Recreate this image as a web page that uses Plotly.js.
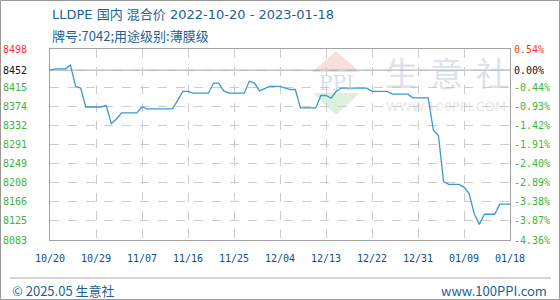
<!DOCTYPE html>
<html>
<head>
<meta charset="utf-8">
<script src="https://cdn.plot.ly/plotly-3.0.1.min.js"></script>
<style>html,body{margin:0;padding:0;background:#fff;}#chart{width:560px;height:300px;}</style>
</head>
<body>
<div id="chart"></div>
<script>
// ---- data ----
const dates = ["2022-10-20","2022-10-21","2022-10-23","2022-10-24","2022-10-25","2022-10-26","2022-10-27","2022-10-30","2022-10-31",
  "2022-11-01","2022-11-02","2022-11-03","2022-11-06","2022-11-07","2022-11-08","2022-11-13","2022-11-15","2022-11-16","2022-11-17",
  "2022-11-20","2022-11-21","2022-11-22","2022-11-23","2022-11-24","2022-11-27","2022-11-28","2022-11-29","2022-11-30",
  "2022-12-01","2022-12-02","2022-12-04","2022-12-05","2022-12-06","2022-12-07","2022-12-08","2022-12-11","2022-12-12","2022-12-13",
  "2022-12-14","2022-12-15","2022-12-16","2022-12-21","2022-12-22","2022-12-25","2022-12-26","2022-12-29","2022-12-30",
  "2023-01-02","2023-01-03","2023-01-04","2023-01-05","2023-01-06","2023-01-08","2023-01-09","2023-01-10","2023-01-11",
  "2023-01-12","2023-01-13","2023-01-15","2023-01-16","2023-01-18"];
const prices = [8452,8455,8455,8463,8417,8413,8372,8372,8375,
  8336,8346,8359,8359,8372,8368,8368,8406,8406,8402,
  8402,8424,8424,8407,8402,8402,8428,8424,8407,
  8412,8417,8417,8413,8410,8410,8370,8370,8397,8397,
  8391,8406,8413,8413,8406,8406,8400,8400,8392,
  8392,8322,8310,8210,8204,8204,8198,8184,8140,
  8117,8139,8139,8161,8161];

const xTickVals = ["2022-10-20","2022-10-29","2022-11-07","2022-11-16","2022-11-25","2022-12-04","2022-12-13","2022-12-22","2022-12-31","2023-01-09","2023-01-18"];
const xTickText = ["10/20","10/29","11/07","11/16","11/25","12/04","12/13","12/22","12/31","01/09","01/18"];
const yTickVals = [8083,8124.5,8166,8207.5,8249,8290.5,8332,8373.5,8415,8452,8498];
const yTickText = ["8083","8125","8166","8208","8249","8291","8332","8374","8415","8452","8498"];
const pctTickText = ["-4.36%","-3.87%","-3.38%","-2.89%","-2.40%","-1.91%","-1.42%","-0.93%","-0.44%","0.00%","0.54%"];
const basePrice = 8452;
const yRange = [8083, 8498];

const titleLine1 = "LLDPE 国内 混合价 2022-10-20 - 2023-01-18";
const titleLine2 = "牌号:7042;用途级别:薄膜级";
const footerLeft = "© 2025.05 生意社";
const footerRight = "www.100PPI.com";
const wmChars = ["生","意","社"];
const wmUrl = "WWW.100PPI.COM";

// ---- colouring helpers ----
function colorTick(txt, val){
  let c = '#3cb43c';
  if (val > basePrice) c = '#ff3333';
  else if (val === basePrice) c = '#111111';
  return '<span style="fill:'+c+'">'+txt+'</span>';
}
const leftText = yTickText.map((t,i)=>colorTick(t, yTickVals[i]));
const rightText = pctTickText.map((t,i)=>colorTick(t, yTickVals[i]));

// pixel -> paper helpers (plot area x 50..510, y 49..240)
const L=50, R=510, T=49, B=240;
const px = x => (x-L)/(R-L);
const py = y => (B-y)/(B-T);

const mono = "DejaVu Sans Mono";
const cjk = "Noto Sans CJK SC";
const mixed = "DejaVu Sans, Noto Sans CJK SC";
const textBlue = '#1d5f96';

const traces = [
  {x: dates, y: prices, type:'scatter', mode:'lines', line:{color:'#3b97d6', width:1.3}, hoverinfo:'skip', showlegend:false},
  {x: dates, y: prices, type:'scatter', mode:'lines', yaxis:'y2', line:{color:'rgba(0,0,0,0)', width:0}, hoverinfo:'skip', showlegend:false}
];

const annotations = [
  {text:titleLine1, xref:'paper', yref:'paper', x:px(50), y:py(15), xanchor:'left', yanchor:'middle', showarrow:false, font:{family:mixed, size:13, color:textBlue}},
  {text:titleLine2, xref:'paper', yref:'paper', x:px(50), y:py(35), xanchor:'left', yanchor:'middle', showarrow:false, font:{family:cjk, size:13, color:textBlue}},
  {text:footerLeft, xref:'paper', yref:'paper', x:px(10), y:py(290), xanchor:'left', yanchor:'middle', showarrow:false, font:{family:cjk, size:13, color:textBlue}},
  {text:footerRight, xref:'paper', yref:'paper', x:px(549), y:py(290), xanchor:'right', yanchor:'middle', showarrow:false, font:{family:cjk, size:13, color:textBlue}},
  {text:'PPI', xref:'paper', yref:'paper', x:px(336), y:py(83), xanchor:'center', yanchor:'middle', showarrow:false, font:{family:'DejaVu Serif', size:20, color:'rgba(190,202,222,0.6)'}},
  {text:wmUrl, xref:'paper', yref:'paper', x:px(446), y:py(106), xanchor:'center', yanchor:'middle', showarrow:false, font:{family:'DejaVu Sans', size:13, color:'rgba(200,200,200,0.45)'}}
];
const wmX = [401, 446, 492];
wmChars.forEach((c,i)=>annotations.push({text:c, xref:'paper', yref:'paper', x:px(wmX[i]), y:py(72), xanchor:'center', yanchor:'middle', showarrow:false, font:{family:cjk, size:33, color:'rgba(190,200,218,0.55)'}}));

const shapes = [
  // watermark triangles
  {type:'path', xref:'paper', yref:'paper', path:`M ${px(312)} ${py(72)} L ${px(360)} ${py(72)} L ${px(336)} ${py(51)} Z`, fillcolor:'rgba(245,195,195,0.55)', line:{width:0}, layer:'below'},
  {type:'path', xref:'paper', yref:'paper', path:`M ${px(313)} ${py(93)} L ${px(360)} ${py(93)} L ${px(336)} ${py(115)} Z`, fillcolor:'rgba(190,230,190,0.55)', line:{width:0}, layer:'below'},
  // base price line
  {type:'line', xref:'paper', yref:'y', x0:0, x1:1, y0:basePrice, y1:basePrice, line:{color:'#9a9a9a', width:1}, layer:'between'},
  // footer rule
  {type:'line', xref:'paper', yref:'paper', x0:px(10), x1:px(551), y0:py(278), y1:py(278), line:{color:'#aaaaaa', width:1}},
  // outer frame
  {type:'rect', xref:'paper', yref:'paper', x0:px(0.5), x1:px(559.5), y0:py(0.5), y1:py(299.5), line:{color:'#9a9a9a', width:1}}
];

const layout = {
  width:560, height:300,
  margin:{l:L, r:560-R, t:T, b:300-B, pad:0},
  paper_bgcolor:'#ffffff', plot_bgcolor:'rgba(0,0,0,0)',
  showlegend:false, hovermode:false,
  xaxis:{type:'date', range:[xTickVals[0], xTickVals[xTickVals.length-1]], tickmode:'array', tickvals:xTickVals, ticktext:xTickText,
    showgrid:true, gridcolor:'#cccccc', griddash:'dash', gridwidth:1, showline:true, mirror:true, linecolor:'#a0a0a0', linewidth:1,
    ticks:'', ticklabelstandoff:9, tickfont:{family:mono, size:10, color:'#0b4f8c'}, zeroline:false, fixedrange:true},
  yaxis:{range:yRange, tickmode:'array', tickvals:yTickVals, ticktext:leftText,
    showgrid:true, gridcolor:'#cccccc', griddash:'dash', gridwidth:1, showline:true, mirror:true, linecolor:'#a0a0a0', linewidth:1,
    ticks:'', ticklabelstandoff:20, tickfont:{family:mono, size:10, color:'#3cb43c'}, zeroline:false, fixedrange:true},
  yaxis2:{range:yRange, overlaying:'y', side:'right', tickmode:'array', tickvals:yTickVals, ticktext:rightText,
    showgrid:false, showline:false, ticks:'', ticklabelstandoff:3, tickfont:{family:mono, size:10, color:'#3cb43c'}, zeroline:false, fixedrange:true},
  annotations: annotations,
  shapes: shapes
};

Plotly.newPlot('chart', traces, layout, {staticPlot:true, displayModeBar:false});
</script>
</body>
</html>
